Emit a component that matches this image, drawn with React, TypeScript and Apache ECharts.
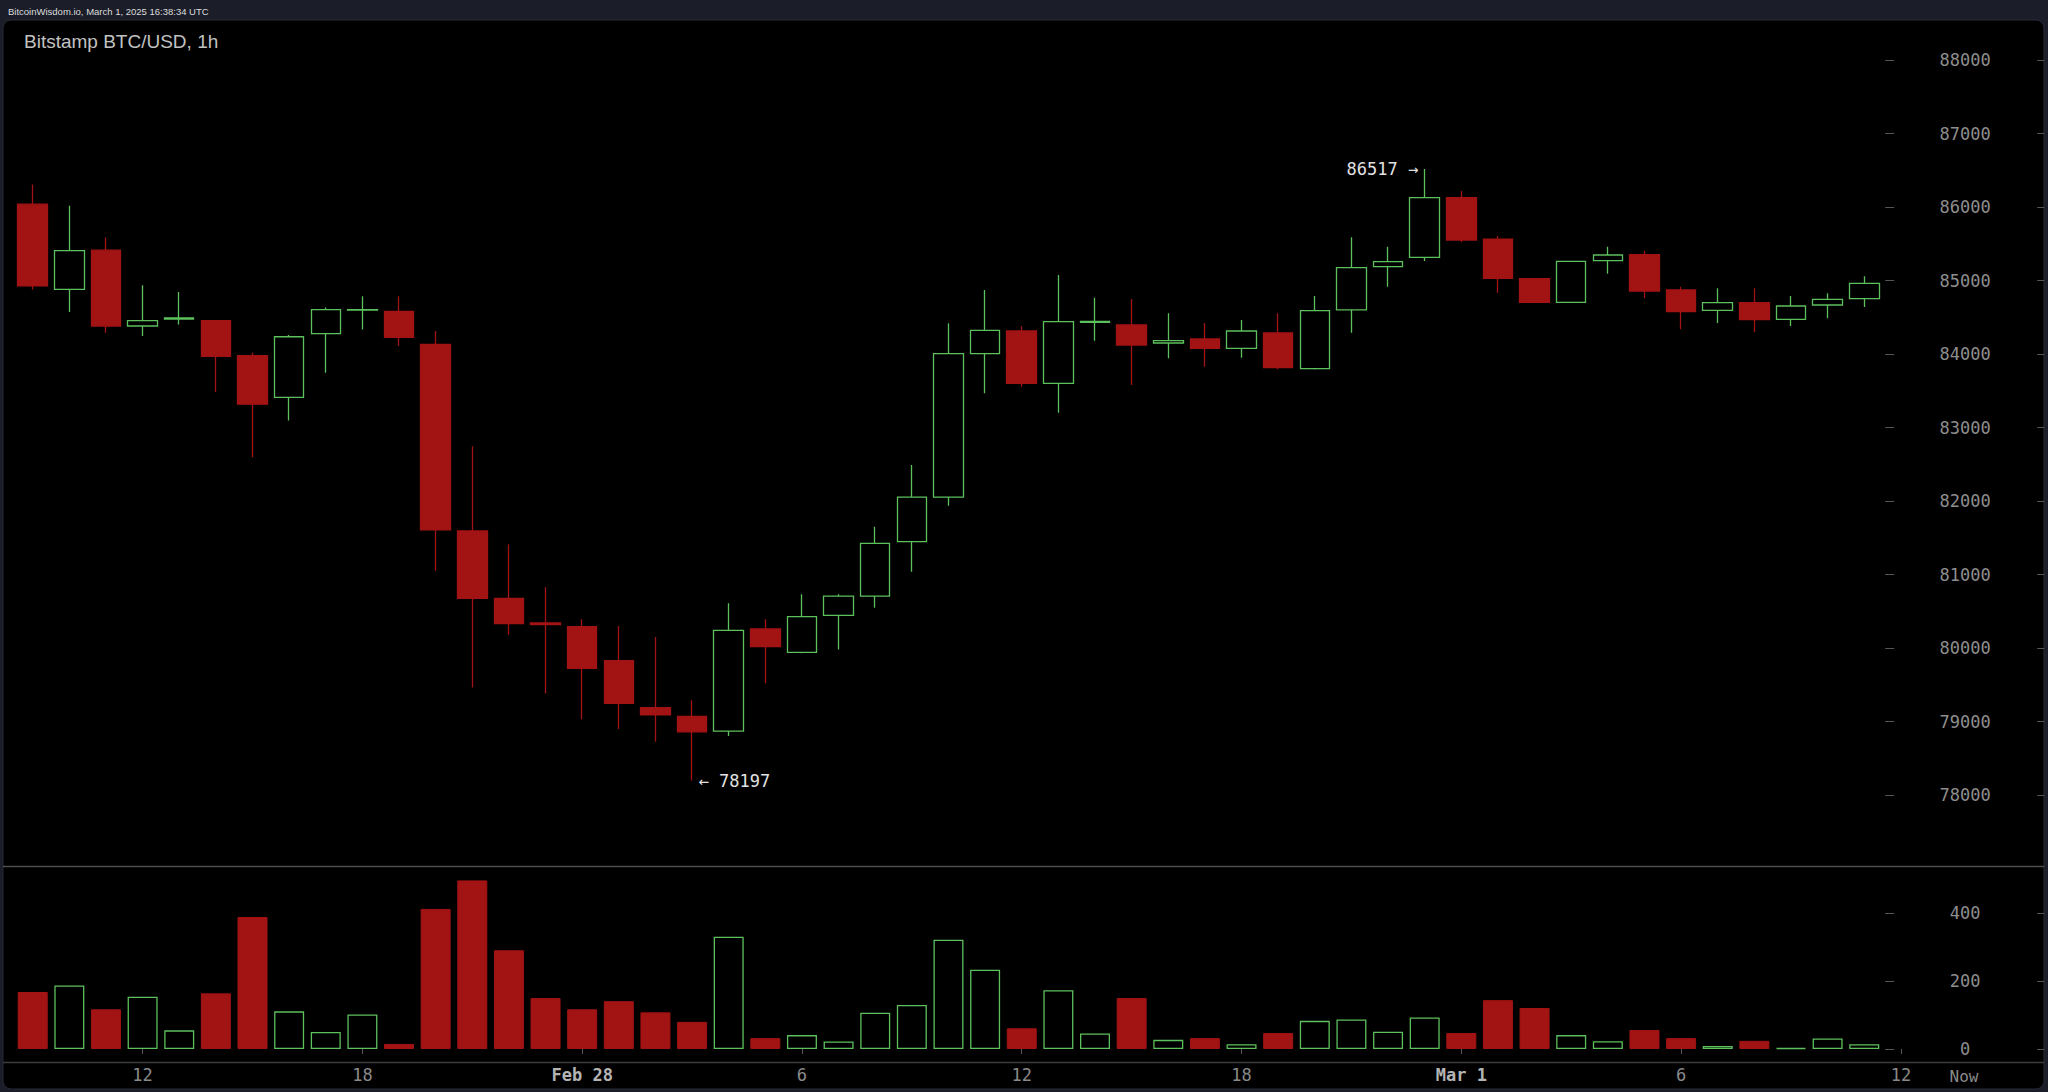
import React, { useEffect, useRef } from "react";
import * as echarts from "echarts";

// ---- data ----
const startDay = 27; // Feb 27, first candle 09:00
const startHour = 9;
const slotCount = 52; // 51 candles + the "12" slot on Mar 1

const opens = [86038, 84880, 85412, 84381, 84475, 84453, 83977, 83409, 84276, 84598, 84581, 84131, 81593, 80676, 80340, 80290, 79828, 79190, 79070, 78870, 80260, 79940, 80444, 80707, 81447, 82054, 84004, 84313, 83600, 84430, 84395, 84150, 84204, 84077, 84286, 83800, 84599, 85188, 85315, 86127, 85564, 85025, 84703, 85270, 85351, 84871, 84594, 84698, 84472, 84667, 84753];
const closes = [84926, 85407, 84381, 84453, 84490, 83968, 83318, 84235, 84603, 84605, 84226, 81606, 80675, 80331, 80320, 79724, 79247, 79090, 78860, 80240, 80020, 80426, 80707, 81424, 82054, 84004, 84322, 83601, 84440, 84442, 84122, 84181, 84077, 84313, 83814, 84590, 85175, 85256, 86127, 85551, 85030, 84703, 85261, 85347, 84857, 84576, 84698, 84467, 84653, 84744, 84962];
const lows = [84876, 84572, 84290, 84245, 84403, 83482, 82596, 83096, 83745, 84335, 84108, 81052, 79461, 80180, 79380, 79030, 78898, 78726, 78197, 78803, 79520, 79930, 79980, 80549, 81038, 81936, 83465, 83556, 83200, 84181, 83578, 83941, 83828, 83950, 83791, 83790, 84290, 84916, 85265, 85520, 84834, 84700, 84700, 85093, 84757, 84336, 84422, 84295, 84381, 84485, 84639];
const highs = [86306, 86016, 85584, 84935, 84844, 84460, 84018, 84258, 84631, 84785, 84785, 84313, 82746, 81410, 80825, 80390, 80300, 80150, 79290, 80608, 80390, 80730, 80730, 81651, 82490, 84417, 84870, 84381, 85075, 84766, 84748, 84553, 84422, 84463, 84553, 84789, 85587, 85460, 86517, 86218, 85605, 85030, 85265, 85460, 85401, 84916, 84893, 84893, 84789, 84825, 85057];
const volumes = [168, 187, 117, 154, 55, 164, 389, 111, 50, 102, 15, 413, 497, 291, 150, 117, 141, 108, 80, 331, 32, 41, 22, 107, 130, 322, 234, 61, 173, 46, 150, 27, 32, 14, 47, 83, 87, 51, 93, 47, 144, 121, 41, 23, 56, 32, 9, 24, 3, 31, 14];

const xTickLabels: Record<number, string> = {
  3: "12",
  9: "18",
  15: "Feb 28",
  21: "6",
  27: "12",
  33: "18",
  39: "Mar 1",
  45: "6",
  51: "12",
};

const priceMin = 78000;
const priceMax = 88000;
const priceStep = 1000;
const volMax = 539.5;
const volStep = 200;

const highMark = { index: 38, value: 86517 };
const lowMark = { index: 18, value: 78197 };

const headerText = "BitcoinWisdom.io, March 1, 2025 16:38:34 UTC";
const titleText = "Bitstamp BTC/USD, 1h";
const nowText = "Now";

// ---- styles ----
const GREEN = "#5cc05c";
const RED = "#a21313";
const MONO = "'DejaVu Sans Mono', monospace";
const SANS = "'Liberation Sans', Arial, sans-serif";

const categories: string[] = [];
for (let i = 0; i < slotCount; i++) {
  const h = startHour + i;
  const day = startDay + Math.floor(h / 24);
  const label = day > 28 ? `Mar ${day - 28}` : `Feb ${day}`;
  categories.push(`${label} ${String(h % 24).padStart(2, "0")}:00`);
}

const candleData = opens.map((o, i) => [o, closes[i], lows[i], highs[i]]);
const volumeData = volumes.map((v, i) => {
  const up = closes[i] >= opens[i];
  return {
    value: v,
    itemStyle: up
      ? { color: "rgba(0,0,0,0)", borderColor: GREEN, borderWidth: 1.3 }
      : { color: RED, borderColor: RED, borderWidth: 1 },
  };
});

const GRID_LEFT = 14.4;
const GRID_WIDTH = 1904.8;

export default function App() {
  const ref = useRef<HTMLDivElement>(null);

  useEffect(() => {
    if (!ref.current) return;
    const chart = echarts.init(ref.current, undefined, { renderer: "svg" });

    const tickLine = { lineStyle: { color: "#555", width: 1 } };

    const option: any = {
      animation: false,
      backgroundColor: "#1b1e29",
      title: {
        text: titleText,
        left: 24,
        top: 32,
        padding: 0,
        textStyle: { color: "#c2c2c2", fontSize: 19, fontWeight: "normal", fontFamily: SANS },
      },
      graphic: [
        {
          type: "rect",
          z: -10,
          shape: { x: 3, y: 20, width: 2041, height: 1069, r: 8 },
          style: { fill: "#000", stroke: "#262a36", lineWidth: 1 },
        },
        {
          type: "line",
          z: 1,
          shape: { x1: 3, y1: 866.5, x2: 2044, y2: 866.5 },
          style: { stroke: "#4e4e4e", lineWidth: 1.5 },
        },
        {
          type: "line",
          z: 1,
          shape: { x1: 3, y1: 1062.5, x2: 2044, y2: 1062.5 },
          style: { stroke: "#3c3c3c", lineWidth: 1.5 },
        },
        {
          type: "text",
          z: 5,
          x: 8,
          y: 11,
          style: {
            text: headerText,
            fill: "#dcdcdc",
            font: `9.5px ${SANS}`,
            verticalAlign: "middle",
          },
        },
        {
          type: "text",
          z: 5,
          x: 1964,
          y: 1076,
          style: {
            text: nowText,
            fill: "#8a8a8a",
            font: `16px ${MONO}`,
            align: "center",
            verticalAlign: "middle",
          },
        },
      ],
      grid: [
        { left: GRID_LEFT, width: GRID_WIDTH, top: 60, height: 735 },
        { left: GRID_LEFT, width: GRID_WIDTH, top: 866, height: 183 },
      ],
      xAxis: [
        {
          gridIndex: 0,
          type: "category",
          data: categories,
          boundaryGap: true,
          show: false,
        },
        {
          gridIndex: 1,
          type: "category",
          data: categories,
          boundaryGap: true,
          position: "bottom",
          offset: 13,
          axisLine: { show: false },
          splitLine: { show: false },
          axisTick: {
            show: true,
            alignWithLabel: true,
            length: 5,
            interval: (i: number) => xTickLabels[i] !== undefined,
            lineStyle: { color: "#5a5a5a", width: 1 },
          },
          axisLabel: {
            interval: (i: number) => xTickLabels[i] !== undefined,
            margin: 4,
            color: "#8a8a8a",
            fontFamily: MONO,
            fontSize: 17,
            formatter: (_v: string, i: number) => {
              const t = xTickLabels[i];
              if (!t) return "";
              return t.includes(" ") ? `{d|${t}}` : t;
            },
            rich: {
              d: { fontFamily: MONO, fontSize: 17, fontWeight: "bold", color: "#b4b4b4" },
            },
          },
        },
      ],
      yAxis: [
        {
          gridIndex: 0,
          type: "value",
          position: "right",
          offset: -34,
          min: priceMin,
          max: priceMax,
          interval: priceStep,
          splitLine: { show: false },
          axisLine: { show: false },
          axisTick: { show: true, length: 9, ...tickLine },
          axisLabel: {
            margin: 80,
            align: "center",
            color: "#8e8e8e",
            fontFamily: MONO,
            fontSize: 17,
            formatter: (v: number) => String(v),
          },
        },
        {
          gridIndex: 0,
          type: "value",
          position: "right",
          offset: 118,
          min: priceMin,
          max: priceMax,
          interval: priceStep,
          splitLine: { show: false },
          axisLine: { show: false },
          axisTick: { show: true, length: 7, ...tickLine },
          axisLabel: { show: false },
        },
        {
          gridIndex: 1,
          type: "value",
          position: "right",
          offset: -34,
          min: 0,
          max: volMax,
          interval: volStep,
          splitLine: { show: false },
          axisLine: { show: false },
          axisTick: { show: true, length: 9, ...tickLine },
          axisLabel: {
            margin: 80,
            align: "center",
            color: "#8e8e8e",
            fontFamily: MONO,
            fontSize: 17,
            showMaxLabel: false,
            formatter: (v: number) => (v % volStep === 0 ? String(v) : ""),
          },
        },
        {
          gridIndex: 1,
          type: "value",
          position: "right",
          offset: 118,
          min: 0,
          max: volMax,
          interval: volStep,
          splitLine: { show: false },
          axisLine: { show: false },
          axisTick: { show: true, length: 7, ...tickLine },
          axisLabel: { show: false },
        },
      ],
      series: [
        {
          type: "candlestick",
          xAxisIndex: 0,
          yAxisIndex: 0,
          data: candleData,
          barWidth: 30,
          itemStyle: {
            color: "rgba(0,0,0,0)",
            color0: RED,
            borderColor: GREEN,
            borderColor0: RED,
            borderWidth: 1.3,
          },
          markPoint: {
            symbol: "circle",
            symbolSize: 1,
            itemStyle: { color: "rgba(0,0,0,0)" },
            data: [
              {
                coord: [highMark.index, highMark.value],
                value: highMark.value,
                label: {
                  show: true,
                  position: "left",
                  distance: 6,
                  formatter: `${highMark.value} \u2192`,
                  color: "#e2e2e2",
                  fontFamily: MONO,
                  fontSize: 17,
                },
              },
              {
                coord: [lowMark.index, lowMark.value],
                value: lowMark.value,
                label: {
                  show: true,
                  position: "right",
                  distance: 6,
                  formatter: `\u2190 ${lowMark.value}`,
                  color: "#e2e2e2",
                  fontFamily: MONO,
                  fontSize: 17,
                },
              },
            ],
          },
        },
        {
          type: "bar",
          xAxisIndex: 1,
          yAxisIndex: 2,
          data: volumeData,
          barWidth: 30,
        },
      ],
    };

    chart.setOption(option);
    return () => chart.dispose();
  }, []);

  return (
    <div
      ref={ref}
      style={{ position: "fixed", left: 0, top: 0, width: 2048, height: 1092 }}
    />
  );
}
